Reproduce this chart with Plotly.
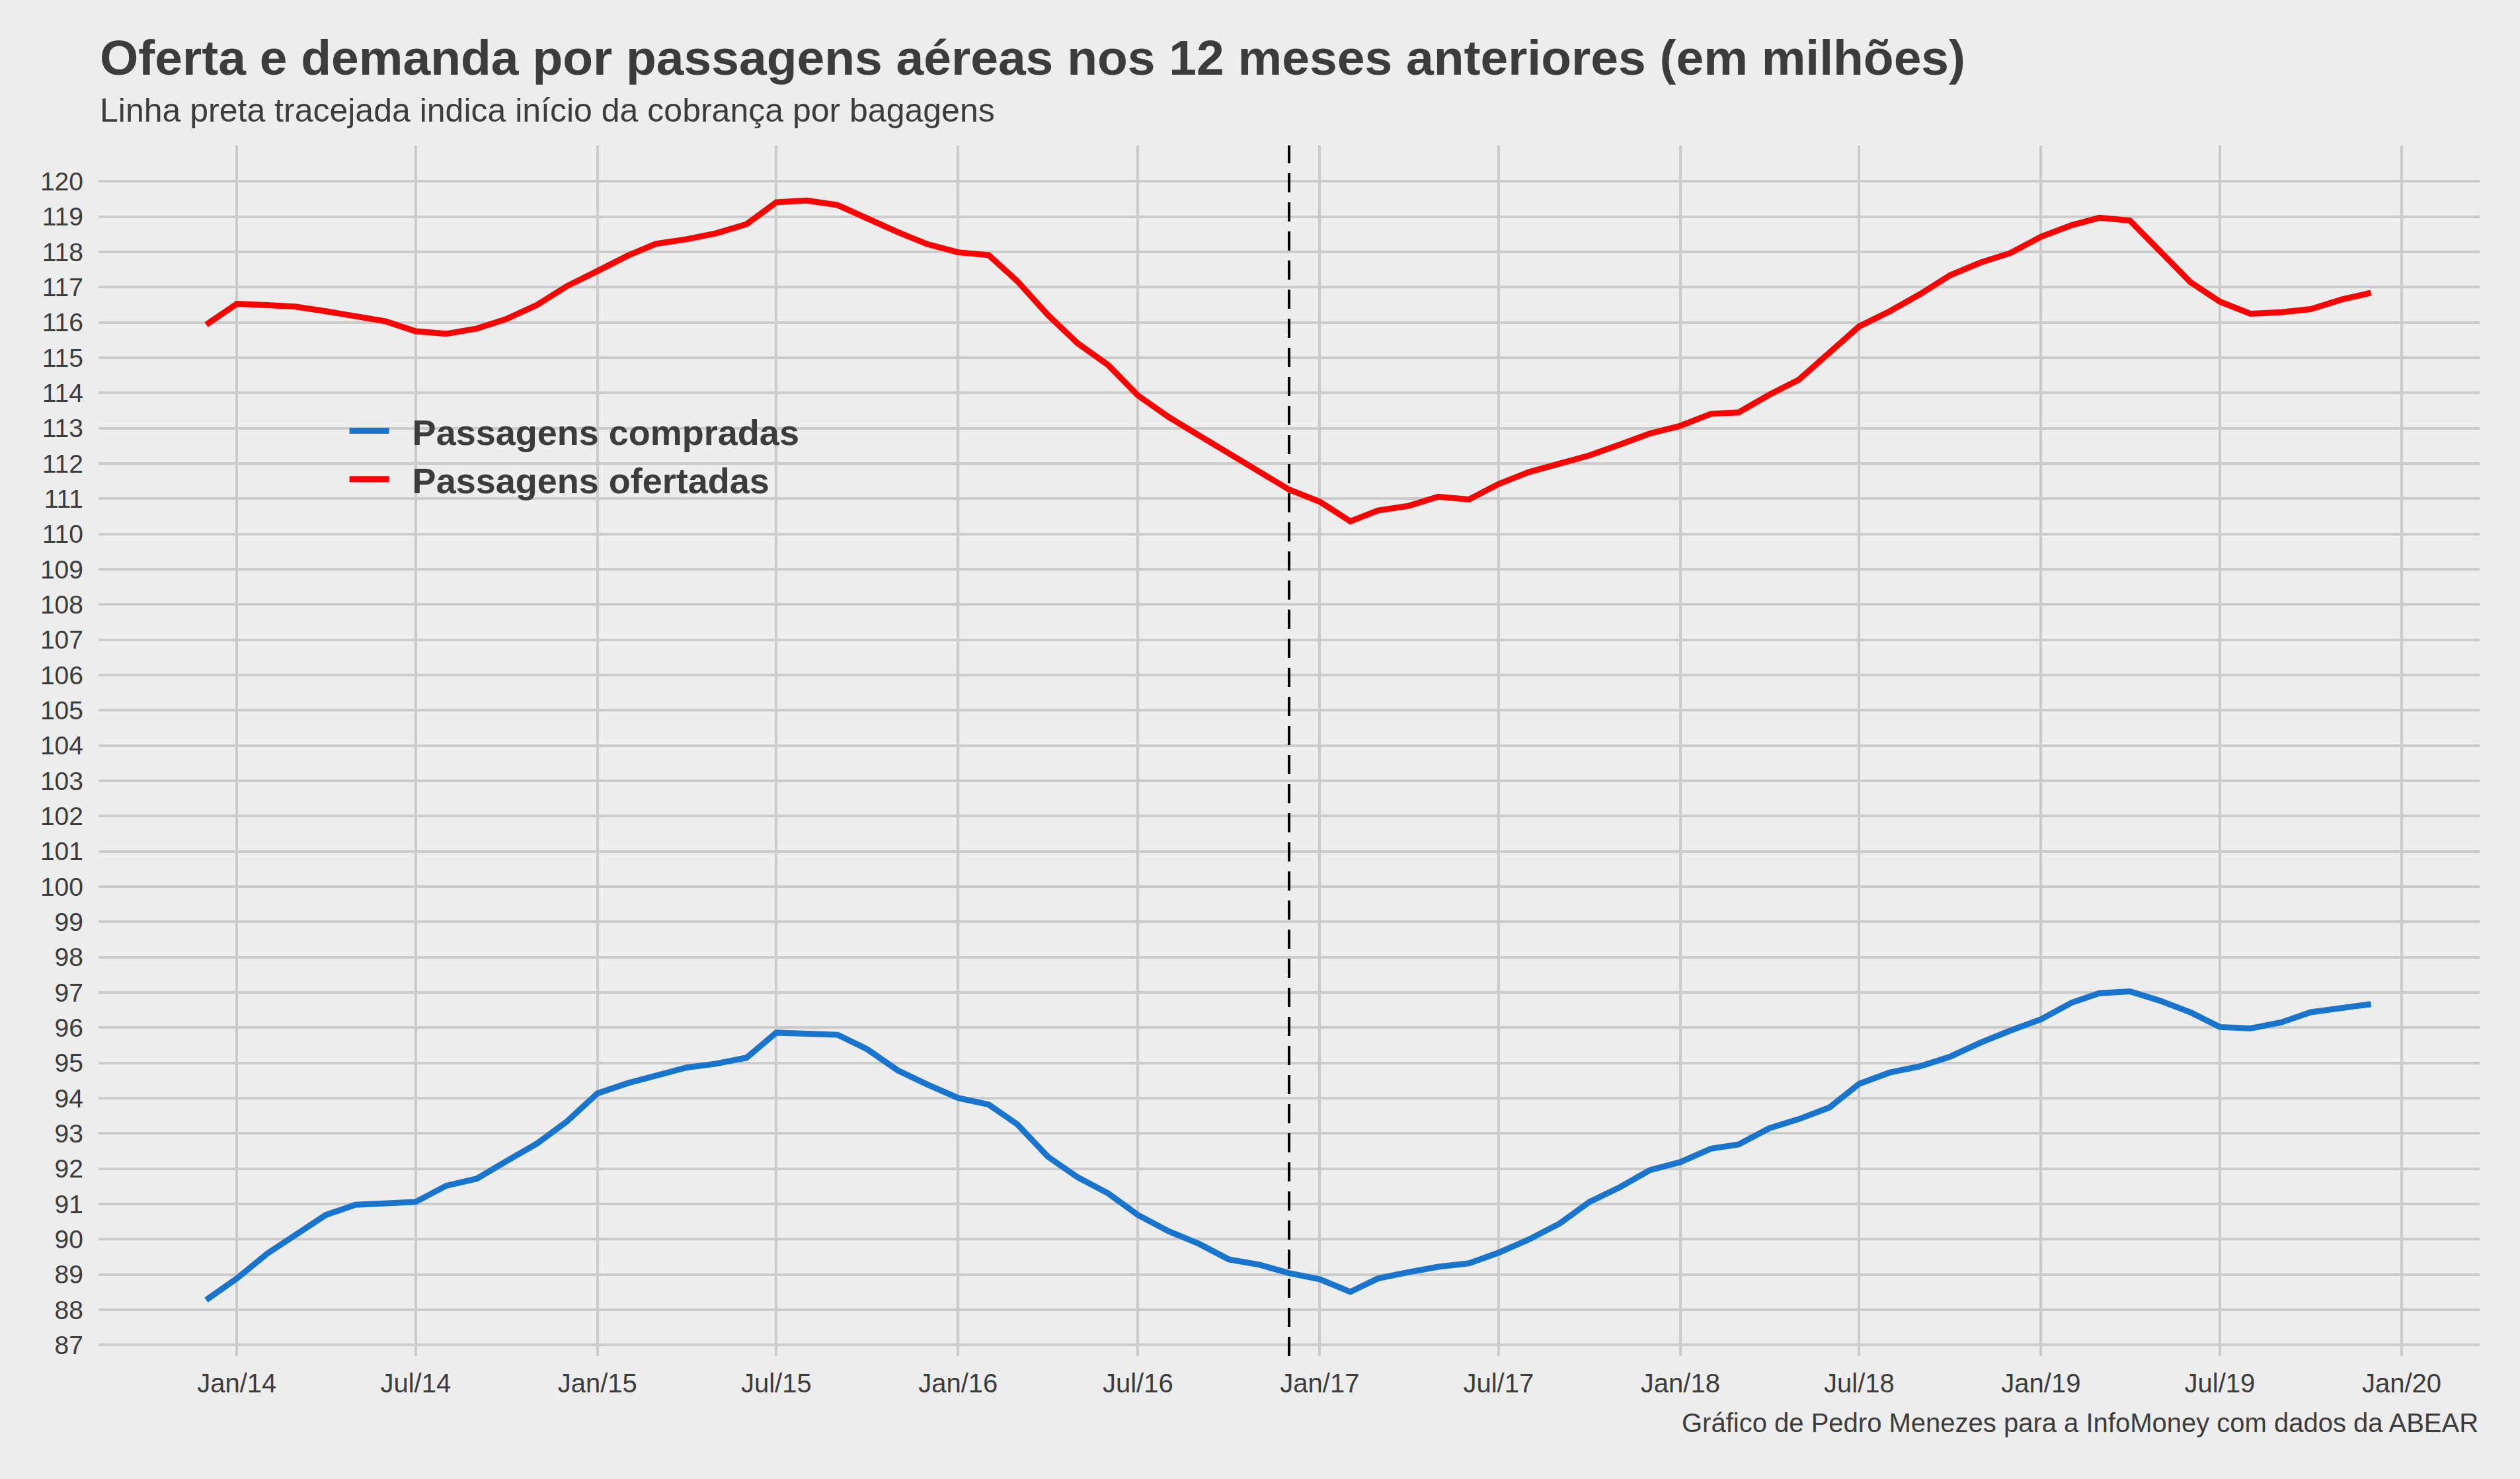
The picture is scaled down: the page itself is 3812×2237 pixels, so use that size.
import pandas as pd
import plotly.graph_objects as go

# meses (dez/2013 a dez/2019), valores em milhões
meses = pd.date_range("2013-12-01", periods=73, freq="MS")

ofertadas = [
    115.94,
    116.53, 116.49, 116.45, 116.32, 116.18, 116.03, 115.75, 115.68, 115.83, 116.10, 116.50, 117.03,
    117.46, 117.90, 118.23, 118.36, 118.53, 118.79, 119.41, 119.46, 119.33, 118.93, 118.56, 118.22,
    117.99, 117.91, 117.17, 116.21, 115.41, 114.79, 113.93, 113.32, 112.80, 112.25, 111.73, 111.26,
    110.92, 110.36, 110.67, 110.80, 111.06, 110.98, 111.42, 111.76, 112.00, 112.23, 112.54, 112.85,
    113.07, 113.41, 113.45, 113.95, 114.38, 115.12, 115.89, 116.32, 116.81, 117.34, 117.70, 117.97,
    118.43, 118.76, 118.97, 118.89, 118.03, 117.15, 116.59, 116.25, 116.29, 116.38, 116.65, 116.84,
]

compradas = [
    88.28,
    88.89, 89.60, 90.14, 90.69, 90.98, 91.01, 91.06, 91.52, 91.72, 92.22, 92.72, 93.34,
    94.14, 94.43, 94.64, 94.87, 94.98, 95.15, 95.86, 95.83, 95.80, 95.39, 94.79, 94.39,
    94.01, 93.82, 93.26, 92.34, 91.76, 91.30, 90.69, 90.23, 89.87, 89.43, 89.28, 89.04,
    88.87, 88.51, 88.89, 89.07, 89.22, 89.32, 89.62, 90.00, 90.45, 91.06, 91.48, 91.96,
    92.19, 92.57, 92.69, 93.15, 93.41, 93.74, 94.41, 94.73, 94.91, 95.18, 95.58, 95.92,
    96.24, 96.71, 96.98, 97.03, 96.77, 96.44, 96.02, 95.98, 96.15, 96.44, 96.56, 96.67,
]

inicio_cobranca = "2016-12-01"

x_tick_vals = pd.date_range("2014-01-01", periods=13, freq="6MS")
x_tick_text = ["Jan/14", "Jul/14", "Jan/15", "Jul/15", "Jan/16", "Jul/16", "Jan/17",
               "Jul/17", "Jan/18", "Jul/18", "Jan/19", "Jul/19", "Jan/20"]
y_tick_vals = list(range(87, 121))

BG = "#EDEDED"
GRID = "#CBCBCB"
TXT = "#3C3C3C"
FONT = "Liberation Sans"
PAD = "\u00a0\u00a0"  # espaço entre símbolo e texto da legenda

fig = go.Figure()
fig.add_trace(go.Scatter(x=meses, y=compradas, mode="lines", name=PAD + "Passagens compradas",
                         line=dict(color="#1874CD", width=9)))
fig.add_trace(go.Scatter(x=meses, y=ofertadas, mode="lines", name=PAD + "Passagens ofertadas",
                         line=dict(color="#FF0000", width=9)))

# linha tracejada: início da cobrança por bagagens
fig.add_vline(x=inicio_cobranca, line=dict(color="black", width=4, dash="29px,15px"))

# fundo da legenda (esconde as linhas de grade)
fig.add_shape(type="rect", xref="paper", yref="paper", x0=0.0983, x1=0.3021, y0=0.6897, y1=0.81,
              fillcolor=BG, line=dict(width=0), layer="between")

fig.update_layout(
    width=3812, height=2237,
    paper_bgcolor=BG, plot_bgcolor=BG,
    margin=dict(l=149, r=61, t=220, b=186),
    font=dict(family=FONT, color=TXT, size=39),
    showlegend=True,
    legend=dict(x=0.104, y=0.787, xanchor="left", yanchor="top", bgcolor="rgba(0,0,0,0)",
                font=dict(size=54, weight="bold", color=TXT), tracegroupgap=0, itemwidth=60),
    xaxis=dict(range=["2013-08-14", "2020-03-20"], tickvals=x_tick_vals, ticktext=x_tick_text,
               showgrid=True, gridcolor=GRID, gridwidth=4, zeroline=False, showline=False,
               ticks="", ticklabelstandoff=14, tickfont=dict(size=40, color=TXT)),
    yaxis=dict(range=[86.69, 121.02], tickvals=y_tick_vals, showgrid=True, gridcolor=GRID,
               gridwidth=4, zeroline=False, showline=False, ticks="", ticklabelstandoff=22,
               tickfont=dict(size=39, color=TXT)),
    annotations=[
        dict(text="<b>Oferta e demanda por passagens aéreas nos 12 meses anteriores (em milhões)</b>",
             xref="paper", yref="paper", x=0.0, y=1.0724, xanchor="left", yanchor="middle",
             showarrow=False, font=dict(size=75, color=TXT, family=FONT)),
        dict(text="Linha preta tracejada indica início da cobrança por bagagens",
             xref="paper", yref="paper", x=0.0, y=1.0287, xanchor="left", yanchor="middle",
             showarrow=False, font=dict(size=50, color=TXT, family=FONT)),
        dict(text="Gráfico de Pedro Menezes para a InfoMoney com dados da ABEAR",
             xref="paper", yref="paper", x=1.0, y=-0.0552, xanchor="right", yanchor="middle",
             showarrow=False, font=dict(size=40, color=TXT, family=FONT)),
    ],
)

fig.write_html("out.html", config={"displayModeBar": False},
               post_script="document.body.style.margin='0px';")
